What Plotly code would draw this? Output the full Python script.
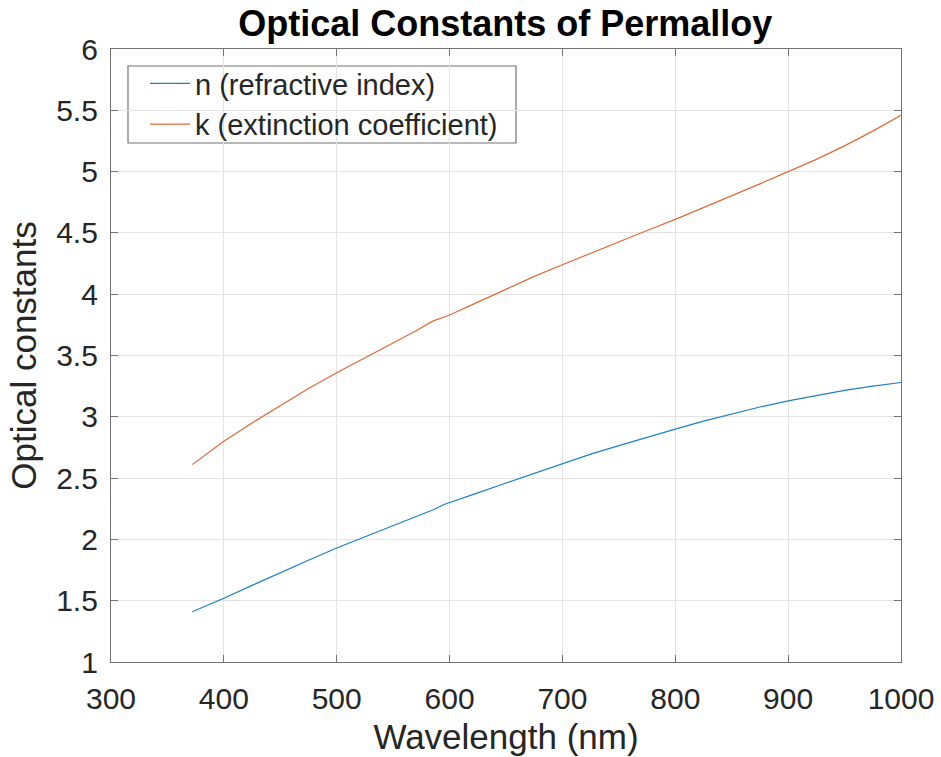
import plotly.graph_objects as go

# Wavelength grid (nm) and optical constants of permalloy
wavelength = [372, 400, 425, 450, 475, 500, 525, 550, 570, 585, 595, 600,
              625, 650, 675, 700, 725, 750, 775, 800, 825, 850, 875, 900,
              925, 950, 975, 1000]
n_index = [1.41, 1.52, 1.625, 1.73, 1.83, 1.93, 2.02, 2.11, 2.185, 2.24, 2.285, 2.30,
           2.38, 2.46, 2.54, 2.62, 2.695, 2.765, 2.835, 2.90, 2.965, 3.025, 3.08, 3.13,
           3.175, 3.215, 3.25, 3.28]
k_extinction = [2.61, 2.80, 2.95, 3.09, 3.23, 3.36, 3.48, 3.60, 3.70, 3.78, 3.81, 3.83,
                3.935, 4.04, 4.145, 4.24, 4.335, 4.43, 4.52, 4.61, 4.705, 4.80, 4.90, 5.00,
                5.10, 5.21, 5.33, 5.46]

x_ticks = [300, 400, 500, 600, 700, 800, 900, 1000]
y_ticks = [1, 1.5, 2, 2.5, 3, 3.5, 4, 4.5, 5, 5.5, 6]

FONT = "Liberation Sans, Arial, Helvetica, sans-serif"
TEXT = "#262626"
AXIS = "#737373"
GRID = "#e3e3e3"

W, H = 941, 757
M = dict(l=111, r=40, t=49, b=95)
PW = W - M["l"] - M["r"]
PH = H - M["t"] - M["b"]


def px_x(p):
    return (p - M["l"]) / PW


def px_y(p):
    return 1 - (p - M["t"]) / PH


fig = go.Figure()
fig.add_trace(go.Scatter(x=wavelength, y=n_index, mode="lines",
                         name="n (refractive index)",
                         line=dict(color="#1f80c0", width=1.2)))
fig.add_trace(go.Scatter(x=wavelength, y=k_extinction, mode="lines",
                         name="k (extinction coefficient)",
                         line=dict(color="#dd6a3a", width=1.2)))

axis_common = dict(
    showline=True, linecolor=AXIS, linewidth=1.2, mirror="ticks",
    ticks="inside", ticklen=7, tickwidth=1, tickcolor=AXIS,
    showgrid=True, gridcolor=GRID, gridwidth=1,
    zeroline=False, automargin=False,
    tickfont=dict(family=FONT, size=30, color=TEXT),
)

fig.update_layout(
    width=W, height=H,
    margin=M,
    paper_bgcolor="white", plot_bgcolor="white",
    title=dict(text="<b>Optical Constants of Permalloy</b>",
               font=dict(family=FONT, size=36, color="#000000"),
               x=0.537, xanchor="center", y=0.969, yanchor="middle"),
    xaxis=dict(range=[300, 1000], tickvals=x_ticks,
               ticktext=[str(v) for v in x_ticks],
               title=dict(text="Wavelength (nm)", standoff=10,
                          font=dict(family=FONT, size=35, color=TEXT)),
               ticklabelstandoff=10, **axis_common),
    yaxis=dict(range=[1, 6], tickvals=y_ticks,
               ticktext=[f"{v:g}" for v in y_ticks],
               title=dict(text="Optical constants", standoff=8,
                          font=dict(family=FONT, size=35, color=TEXT)),
               ticklabelstandoff=6, **axis_common),
    legend=dict(x=px_x(145), y=px_y(58), xanchor="left", yanchor="top",
                bgcolor="rgba(0,0,0,0)", borderwidth=0,
                font=dict(family=FONT, size=29, color=TEXT),
                tracegroupgap=0, itemwidth=40),
    showlegend=True,
    shapes=[dict(type="rect", xref="paper", yref="paper",
                 x0=px_x(128), x1=px_x(516), y0=px_y(143), y1=px_y(66),
                 line=dict(color=AXIS, width=1.2), fillcolor="white",
                 layer="below")],
)

fig.write_html("out.html")
